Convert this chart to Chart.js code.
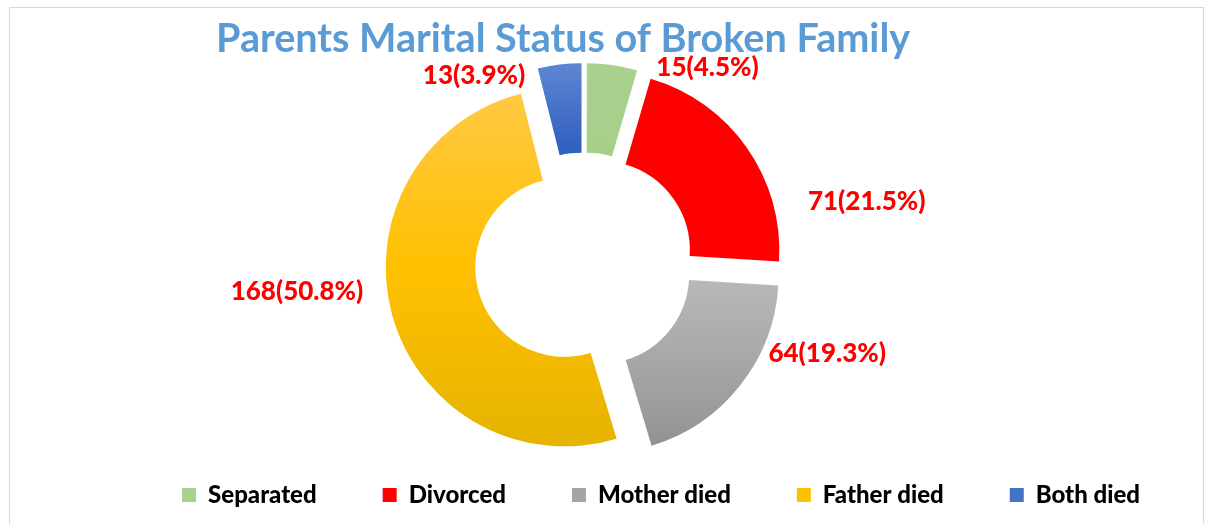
<!DOCTYPE html>
<html>
<head>
<meta charset="utf-8">
<script src="https://cdn.jsdelivr.net/npm/chart.js@4.4.1/dist/chart.umd.min.js"></script>
<style>
  html, body { margin: 0; padding: 0; background: #ffffff; }
  #wrap { position: relative; width: 1206px; height: 524px; overflow: hidden; }
  #frame { position: absolute; left: 9px; top: 7px; width: 1195px; height: 540px; border: 1px solid #D9D9D9; box-sizing: border-box; }
  #chart { position: absolute; left: 0; top: 0; }
</style>
</head>
<body>
<div id="wrap">
  <div id="frame"></div>
  <canvas id="chart" width="1206" height="524"></canvas>
</div>
<script>
// ---- data ----
const chartTitle = 'Parents Marital Status of Broken Family';
const categories = ['Separated', 'Divorced', 'Mother died', 'Father died', 'Both died'];
const counts = [15, 71, 64, 168, 13];

// ---- styles ----
const baseColors = ['#A9D18E', '#FF0000', '#A5A5A5', '#FFC000', '#4472C4'];
const sliceGradients = [
  [[0, '#A9D18E'], [1, '#A6CF8A']],
  [[0, '#FF0000'], [1, '#FF0000']],
  [[0, '#B8B8B8'], [0.5, '#A7A7A7'], [1, '#929292']],
  [[0, '#FFC943'], [0.5, '#FFC000'], [1, '#E5B300']],
  [[0, '#5E86D4'], [1, '#2E5DBD']]
];
const explodeDistance = 20;
// label placement: angle (deg, clockwise from 12 o'clock) and distance from the ring centre
const labelAngles = [32.5, 78, 110.7, 264.2, 329.4];
const labelDistances = [230, 289, 260, 288.5, 216];

const explodePlugin = {
  id: 'explode',
  afterDatasetsUpdate(chart) {
    const meta = chart.getDatasetMeta(0);
    meta.data.forEach((arc) => {
      const mid = (arc.startAngle + arc.endAngle) / 2;
      arc.x += Math.cos(mid) * explodeDistance;
      arc.y += Math.sin(mid) * explodeDistance;
    });
  }
};

const gradientPlugin = {
  id: 'sliceGradient',
  beforeDatasetsDraw(chart) {
    const meta = chart.getDatasetMeta(0);
    const ctx = chart.ctx;
    meta.data.forEach((arc, i) => {
      const {x, y, startAngle, endAngle, outerRadius, innerRadius} = arc;
      const ys = [
        y + outerRadius * Math.sin(startAngle), y + outerRadius * Math.sin(endAngle),
        y + innerRadius * Math.sin(startAngle), y + innerRadius * Math.sin(endAngle)
      ];
      const inRange = (a) => { let t = a; while (t < startAngle) t += Math.PI * 2; return t <= endAngle; };
      if (inRange(-Math.PI / 2)) ys.push(y - outerRadius);
      if (inRange(Math.PI / 2)) ys.push(y + outerRadius);
      const top = Math.min(...ys), bottom = Math.max(...ys);
      const g = ctx.createLinearGradient(0, top, 0, bottom);
      sliceGradients[i].forEach(([p, c]) => g.addColorStop(p, c));
      arc.options = Object.assign({}, arc.options, {backgroundColor: g});
    });
  }
};

const labelPlugin = {
  id: 'sliceLabels',
  afterDatasetsDraw(chart) {
    const {ctx, chartArea} = chart;
    const cx = (chartArea.left + chartArea.right) / 2;
    const cy = (chartArea.top + chartArea.bottom) / 2;
    const values = chart.data.datasets[0].data;
    const total = values.reduce((s, v) => s + v, 0);
    ctx.save();
    ctx.font = '900 26px Lato';
    ctx.fillStyle = '#FF0000';
    ctx.textAlign = 'center';
    ctx.textBaseline = 'middle';
    values.forEach((v, i) => {
      const a = labelAngles[i] * Math.PI / 180;
      const lx = cx + labelDistances[i] * Math.sin(a);
      const ly = cy - labelDistances[i] * Math.cos(a);
      ctx.fillText(v + '(' + (v / total * 100).toFixed(1) + '%)', lx, ly);
    });
    ctx.restore();
  }
};

function spacer(position, size) {
  return {
    position, weight: 1000, fullSize: false, options: {},
    isHorizontal() { return false; },
    update(maxWidth, maxHeight) { this.width = size; this.height = maxHeight; },
    draw() {}
  };
}
const spacerPlugin = {
  id: 'spacers',
  beforeInit(chart) {
    Chart.layouts.addBox(chart, spacer('left', 216));
    Chart.layouts.addBox(chart, spacer('right', 254));
  }
};

new Chart(document.getElementById('chart'), {
  type: 'doughnut',
  data: {
    labels: categories,
    datasets: [{
      data: counts,
      backgroundColor: baseColors,
      borderWidth: 0,
      hoverOffset: 0
    }]
  },
  options: {
    responsive: false,
    animation: false,
    radius: 179,
    cutout: '50%',
    layout: { padding: { top: 8, bottom: 7, left: 0, right: 0 } },
    plugins: {
      tooltip: { enabled: false },
      title: {
        display: true,
        text: chartTitle,
        fullSize: false,
        align: 'start',
        color: '#5B9BD5',
        font: { family: 'Lato', weight: 'bold', size: 39.6, lineHeight: 1.2 },
        padding: { top: 7.3, bottom: 44.2 }
      },
      legend: {
        display: true,
        position: 'bottom',
        align: 'end',
        labels: {
          boxWidth: 14,
          boxHeight: 14,
          padding: 66,
          color: '#000000',
          font: { family: 'Lato', weight: '900', size: 24 }
        }
      }
    }
  },
  plugins: [spacerPlugin, explodePlugin, gradientPlugin, labelPlugin]
});
</script>
</body>
</html>
